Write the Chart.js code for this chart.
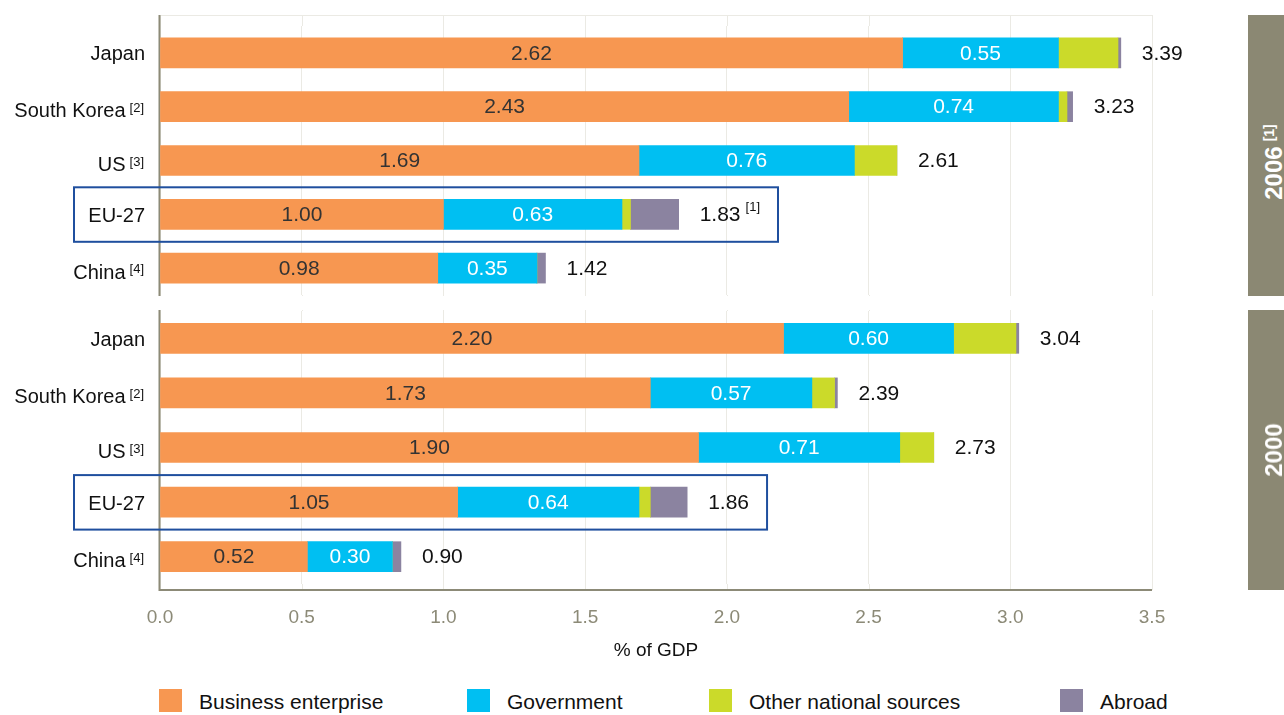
<!DOCTYPE html>
<html>
<head>
<meta charset="utf-8">
<script src="https://cdn.jsdelivr.net/npm/chart.js@4.4.1/dist/chart.umd.min.js"></script>
<style>
html,body{margin:0;padding:0;background:#fff;}
body{width:1284px;height:715px;overflow:hidden;position:relative;font-family:'Liberation Sans',Arial,sans-serif;}
canvas{position:absolute;left:0;}
#c2006{top:0;}
#c2000{top:300px;}
.side{position:absolute;left:1248px;width:36px;background:#8b8873;overflow:hidden;}
.side span{position:absolute;left:26px;white-space:nowrap;color:#fff;font-weight:bold;font-size:24px;line-height:24px;transform:translate(-50%,-50%) rotate(-90deg);}
.side sup{font-size:14px;line-height:14px;vertical-align:8px;margin-left:5px;}
.legend-item{position:absolute;top:689px;height:23px;}
.legend-item i{position:absolute;left:0;top:0;width:23px;height:23px;}
.legend-item b{position:absolute;left:40px;top:1px;font-weight:normal;font-size:21px;line-height:23px;white-space:nowrap;color:#111;}
</style>
</head>
<body>
<canvas id="c2006" width="1284" height="300"></canvas>
<canvas id="c2000" width="1284" height="362"></canvas>
<div class="side" style="top:15px;height:281px;"><span style="top:147px;">2006<sup>[1]</sup></span></div>
<div class="side" style="top:310px;height:280px;"><span style="top:140px;">2000</span></div>
<div id="legend"></div>
<script>
// ---------- data ----------
const categories = ['Japan', 'South Korea', 'US', 'EU-27', 'China'];
const categoryNotes = ['', '[2]', '[3]', '', '[4]'];
const highlighted = 'EU-27';
const seriesNames = ['Business enterprise', 'Government', 'Other national sources', 'Abroad'];

const business2006 = [2.62, 2.43, 1.69, 1.00, 0.98];
const government2006 = [0.55, 0.74, 0.76, 0.63, 0.35];
const otherNational2006 = [0.21, 0.03, 0.15, 0.03, 0.00];
const abroad2006 = [0.01, 0.02, 0.00, 0.17, 0.03];
const total2006 = [3.39, 3.23, 2.61, 1.83, 1.42];
const totalNotes2006 = ['', '', '', '[1]', ''];

const business2000 = [2.20, 1.73, 1.90, 1.05, 0.52];
const government2000 = [0.60, 0.57, 0.71, 0.64, 0.30];
const otherNational2000 = [0.22, 0.08, 0.12, 0.04, 0.00];
const abroad2000 = [0.01, 0.01, 0.00, 0.13, 0.03];
const total2000 = [3.04, 2.39, 2.73, 1.86, 0.90];
const totalNotes2000 = ['', '', '', '', ''];

const xTickValues = [0, 0.5, 1.0, 1.5, 2.0, 2.5, 3.0, 3.5];
const xAxisTitle = '% of GDP';

// ---------- styles ----------
const FONT = "'Liberation Sans', Arial, sans-serif";
const seriesColors = ['#f79751', '#00bff2', '#cbda2a', '#8b83a0'];
const insideLabel = [true, true, false, false];
const insideColors = ['#333333', '#ffffff', '#333333', '#333333'];
const GRID = '#ebeae4';
const AXIS = '#8c8a77';
const TICK = '#8c8a77';
const BOX = '#1f4f9e';
const legendX = [159, 467, 709, 1060];

Chart.defaults.font.family = FONT;

const frameExt = {
  id: 'frameExt',
  beforeDatasetsDraw(chart, args, o) {
    const {ctx, chartArea: a, scales: {x}} = chart;
    const t = a.top - o.above, b = a.bottom + o.below;
    ctx.save();
    ctx.strokeStyle = GRID; ctx.lineWidth = 1;
    ctx.beginPath();
    x.ticks.forEach(tk => {
      const px = Math.round(x.getPixelForValue(tk.value)) + 0.5;
      if (o.above) { ctx.moveTo(px, t); ctx.lineTo(px, a.top); }
      if (o.below) { ctx.moveTo(px, a.bottom); ctx.lineTo(px, b); }
    });
    if (o.topLine) { ctx.moveTo(a.left, t + 0.5); ctx.lineTo(a.right, t + 0.5); }
    ctx.stroke();
    ctx.strokeStyle = AXIS; ctx.lineWidth = 2;
    ctx.beginPath();
    ctx.moveTo(a.left - 0.5, t); ctx.lineTo(a.left - 0.5, b);
    if (o.bottomAxis) { ctx.moveTo(a.left - 1.5, b); ctx.lineTo(a.right, b); }
    ctx.stroke();
    ctx.restore();
  }
};

const rowLabels = {
  id: 'rowLabels',
  afterDatasetsDraw(chart, args, o) {
    const {ctx, scales: {y}} = chart;
    ctx.save();
    // category labels with superscript notes
    categories.forEach((cat, i) => {
      const cy = y.getPixelForValue(i);
      const note = categoryNotes[i];
      const base = cy + 7.5 + (note ? 3 : 0);
      ctx.fillStyle = '#111';
      ctx.textBaseline = 'alphabetic';
      ctx.textAlign = 'right';
      let right = 145;
      if (note) {
        ctx.font = '13px ' + FONT;
        ctx.fillText(note, 144, base - 5.5);
        right = 144 - ctx.measureText(note).width - 4;
      }
      ctx.font = '20px ' + FONT;
      ctx.fillText(cat, right, base);
    });
    // values inside segments
    const metas = chart.data.datasets.map((d, i) => chart.getDatasetMeta(i));
    ctx.font = '21px ' + FONT;
    ctx.textAlign = 'center';
    ctx.textBaseline = 'middle';
    insideLabel.forEach((show, s) => {
      if (!show) return;
      metas[s].data.forEach((el, i) => {
        const v = chart.data.datasets[s].data[i];
        ctx.fillStyle = insideColors[s];
        ctx.fillText(v.toFixed(2), (el.x + el.base) / 2, el.y + 1);
      });
    });
    // totals and highlight box
    const last = metas[metas.length - 1];
    last.data.forEach((el, i) => {
      const x0 = el.x + 21;
      const txt = o.totals[i].toFixed(2);
      ctx.font = '21px ' + FONT;
      ctx.textAlign = 'left';
      ctx.textBaseline = 'middle';
      ctx.fillStyle = '#111';
      ctx.fillText(txt, x0, el.y + 1);
      let end = x0 + ctx.measureText(txt).width;
      const note = o.notes[i];
      if (note) {
        ctx.font = '13px ' + FONT;
        ctx.textBaseline = 'alphabetic';
        ctx.fillText(note, end + 5, el.y - 3);
        end += 5 + ctx.measureText(note).width;
      }
      if (categories[i] === highlighted) {
        ctx.strokeStyle = BOX;
        ctx.lineWidth = 2;
        ctx.strokeRect(74, el.y - 27, end + 18 - 74, 54.5);
      }
    });
    ctx.restore();
  }
};

function buildChart(id, values, totals, notes, opt) {
  return new Chart(document.getElementById(id), {
    type: 'bar',
    data: {
      labels: categories,
      datasets: seriesNames.map((name, i) => ({
        label: name,
        data: values[i],
        backgroundColor: seriesColors[i],
        borderWidth: 0,
        barThickness: 30
      }))
    },
    options: {
      indexAxis: 'y',
      responsive: false,
      animation: false,
      events: [],
      layout: {padding: {top: opt.padTop, right: 132, left: 0, bottom: 0}},
      plugins: {
        legend: {display: false},
        tooltip: {enabled: false},
        frameExt: opt.frame,
        rowLabels: {totals: totals, notes: notes}
      },
      scales: {
        x: {
          stacked: true,
          min: 0,
          max: 3.5,
          position: 'bottom',
          afterBuildTicks: s => { s.ticks = xTickValues.map(v => ({value: v})); },
          afterFit: s => { s.height = opt.xHeight; },
          grid: {color: GRID, drawTicks: false, lineWidth: 1},
          border: {display: false},
          ticks: {
            display: opt.showX,
            padding: 22,
            color: TICK,
            font: {size: 19, family: FONT},
            callback: v => Number(v).toFixed(1)
          },
          title: {display: opt.showX, text: xAxisTitle, color: '#111', font: {size: 19, family: FONT}, padding: 0}
        },
        y: {
          stacked: true,
          afterFit: s => { s.width = 160; },
          grid: {display: false},
          border: {display: false},
          ticks: {display: false}
        }
      }
    },
    plugins: [frameExt, rowLabels]
  });
}

buildChart('c2006',
  [business2006, government2006, otherNational2006, abroad2006],
  total2006, totalNotes2006,
  {padTop: 26, xHeight: 5, showX: false, frame: {above: 11, below: 1, topLine: true, bottomAxis: false}});

buildChart('c2000',
  [business2000, government2000, otherNational2000, abroad2000],
  total2000, totalNotes2000,
  {padTop: 11, xHeight: 78, showX: true, frame: {above: 1, below: 6, topLine: false, bottomAxis: true}});

// legend
const legend = document.getElementById('legend');
seriesNames.forEach((name, i) => {
  const item = document.createElement('div');
  item.className = 'legend-item';
  item.style.left = legendX[i] + 'px';
  const sw = document.createElement('i');
  sw.style.background = seriesColors[i];
  const tx = document.createElement('b');
  tx.textContent = name;
  item.appendChild(sw); item.appendChild(tx);
  legend.appendChild(item);
});
</script>
</body>
</html>
